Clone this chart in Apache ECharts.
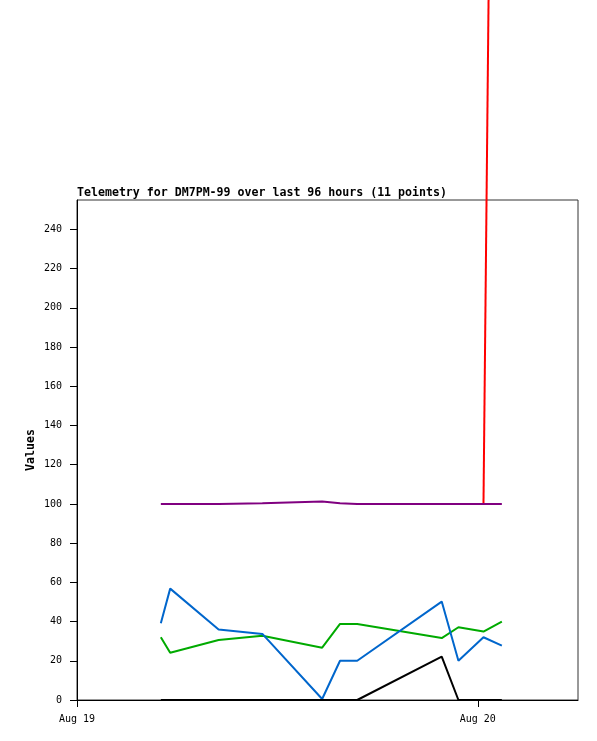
<!DOCTYPE html>
<html>
<head>
<meta charset="utf-8">
<script src="https://cdn.jsdelivr.net/npm/echarts@6/dist/echarts.min.js"></script>
<style>html,body{margin:0;padding:0;background:#fff;}#c{width:597px;height:741px;}</style>
</head>
<body>
<div id="c"></div>
<script>
// Hours since Aug 19 00:00
var hours = [5.02, 5.58, 8.48, 11.1, 14.68, 15.75, 16.78, 21.84, 22.84, 24.34, 25.44];
var blueVals = [39.1, 56.8, 36.0, 33.7, 0.5, 20.0, 20.0, 50.2, 20.0, 32.0, 27.7];
var greenVals = [32.0, 24.1, 30.6, 32.8, 26.7, 38.8, 38.8, 31.6, 37.1, 34.9, 40.0];
var blackVals = [0, 0, 0, 0, 0, 0, 0, 22.1, 0, 0, 0];
var purpleVals = [100, 100, 100, 100.3, 101.2, 100.3, 100, 100, 100, 100, 100];
var redVals = [null, null, null, null, null, null, null, null, null, 100, 1030];
var xTickHours = [0, 24];
var xTickLabels = ['Aug 19', 'Aug 20'];
var yTicks = [0, 20, 40, 60, 80, 100, 120, 140, 160, 180, 200, 220, 240];
var titleText = 'Telemetry for DM7PM-99 over last 96 hours (11 points)';
var yName = 'Values';

function pairs(vals) {
  return hours.map(function (h, i) { return [h, vals[i]]; });
}
var font = 'DejaVu Sans Mono';
var chart = echarts.init(document.getElementById('c'), null, {renderer: 'canvas'});
function line(vals, color, z) {
  return {
    type: 'line', data: pairs(vals), showSymbol: false, symbol: 'none',
    clip: false, z: z, connectNulls: false,
    lineStyle: {color: color, width: 2}, itemStyle: {color: color},
    animation: false
  };
}
chart.setOption({
  animation: false,
  title: {
    text: titleText, left: 72, top: 182,
    textStyle: {fontFamily: font, fontWeight: 'bold', fontSize: 11.6, color: '#000'}
  },
  grid: {left: 77, top: 200, right: 19, bottom: 41, show: true, borderColor: '#333', borderWidth: 1, backgroundColor: 'transparent'},
  xAxis: {
    type: 'value', min: 0, max: 30,
    axisLine: {show: true, onZero: false, lineStyle: {color: '#000', width: 1}},
    axisTick: {show: true, length: 7, customValues: xTickHours, lineStyle: {color: '#000'}},
    axisLabel: {
      customValues: xTickHours, margin: 14, color: '#000', fontFamily: font, fontSize: 10,
      formatter: function (v) { var i = xTickHours.indexOf(v); return i >= 0 ? xTickLabels[i] : ''; }
    },
    splitLine: {show: false}
  },
  yAxis: {
    type: 'value', min: 0, max: 255,
    name: yName, nameLocation: 'middle', nameGap: 40, nameMoveOverlap: false,
    nameTextStyle: {fontFamily: font, fontWeight: 'bold', fontSize: 11.6, color: '#000'},
    axisLine: {show: true, lineStyle: {color: '#000', width: 1}},
    axisTick: {show: true, length: 7, customValues: yTicks, lineStyle: {color: '#000'}},
    axisLabel: {customValues: yTicks, margin: 15, color: '#000', fontFamily: font, fontSize: 10},
    splitLine: {show: false}
  },
  series: [
    line(redVals, '#ff0000', 2),
    line(purpleVals, '#800080', 3),
    line(greenVals, '#00aa00', 4),
    line(blueVals, '#0066cc', 5),
    line(blackVals, '#000000', 6)
  ]
});
</script>
</body>
</html>
